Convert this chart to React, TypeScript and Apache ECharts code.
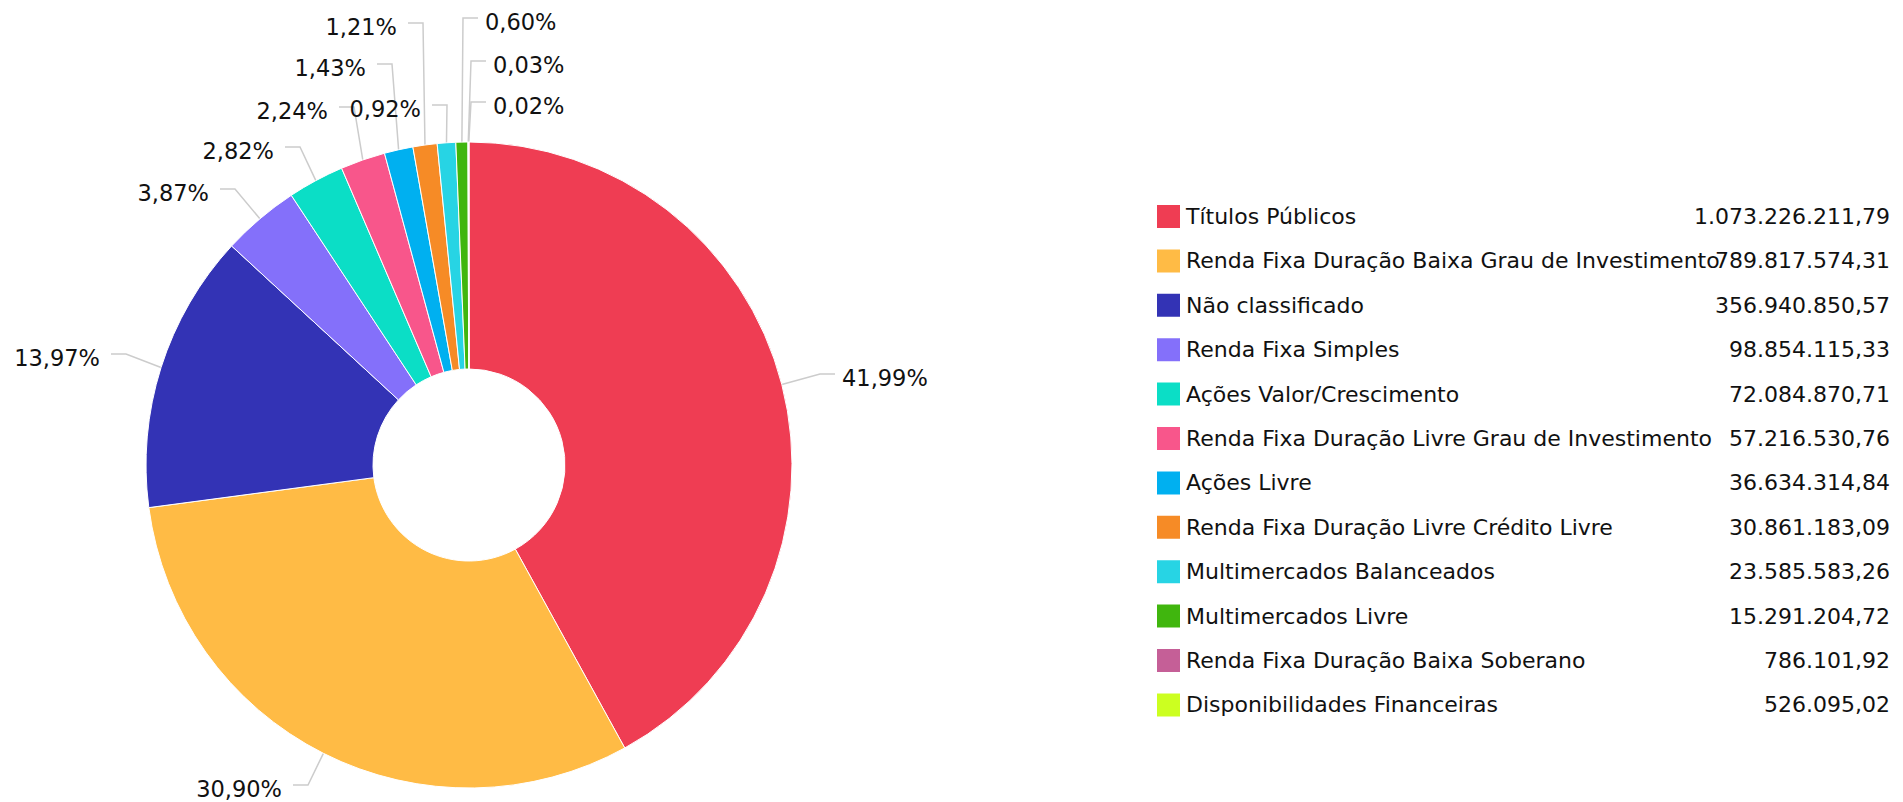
import React, { useEffect, useRef } from "react";
import * as echarts from "echarts";

const categories: string[] = [
  "Títulos Públicos",
  "Renda Fixa Duração Baixa Grau de Investimento",
  "Não classificado",
  "Renda Fixa Simples",
  "Ações Valor/Crescimento",
  "Renda Fixa Duração Livre Grau de Investimento",
  "Ações Livre",
  "Renda Fixa Duração Livre Crédito Livre",
  "Multimercados Balanceados",
  "Multimercados Livre",
  "Renda Fixa Duração Baixa Soberano",
  "Disponibilidades Financeiras",
];

const values: number[] = [
  1073226211.79, 789817574.31, 356940850.57, 98854115.33, 72084870.71,
  57216530.76, 36634314.84, 30861183.09, 23585583.26, 15291204.72,
  786101.92, 526095.02,
];

const colors: string[] = [
  "#ef3d53", "#ffbb45", "#3333b5", "#8470fa", "#0bdec6", "#f8568b",
  "#00b0f0", "#f68b26", "#27d4e4", "#40b60e", "#c55f97", "#ccff20",
];

// Label placement (layout config): side, connector bend x, connector row y
const LABEL_LAYOUT: { side: "left" | "right"; bendX: number; lineY: number }[] = [
  { side: "right", bendX: 820, lineY: 374 },
  { side: "left", bendX: 308, lineY: 785 },
  { side: "left", bendX: 126, lineY: 354 },
  { side: "left", bendX: 235, lineY: 189 },
  { side: "left", bendX: 300, lineY: 147 },
  { side: "left", bendX: 354, lineY: 107 },
  { side: "left", bendX: 392, lineY: 64 },
  { side: "left", bendX: 423, lineY: 23 },
  { side: "left", bendX: 447, lineY: 105 },
  { side: "right", bendX: 463, lineY: 18 },
  { side: "right", bendX: 471, lineY: 61 },
  { side: "right", bendX: 471, lineY: 102 },
];

const FONT = "'DejaVu Sans', Verdana, sans-serif";

function fmtBR(v: number): string {
  const [i, d] = v.toFixed(2).split(".");
  return i.replace(/\B(?=(\d{3})+(?!\d))/g, ".") + "," + d;
}

export default function App() {
  const ref = useRef<HTMLDivElement>(null);

  useEffect(() => {
    if (!ref.current) return;
    const chart = echarts.init(ref.current, undefined, { renderer: "svg" });
    const data = categories.map((name, i) => ({
      name,
      value: values[i],
      itemStyle: { color: colors[i] },
    }));

    chart.setOption({
      animation: false,
      backgroundColor: "#ffffff",
      legend: {
        orient: "vertical",
        left: 1155,
        top: 203,
        padding: 0,
        itemWidth: 25,
        itemHeight: 25,
        itemGap: 17.4,
        itemTextGap: 9,
        icon: "rect",
        selectedMode: false,
        data: categories,
        formatter: (name: string) => {
          const i = categories.indexOf(name);
          return `{n|${name}}{v|${fmtBR(values[i])}}`;
        },
        textStyle: {
          fontFamily: FONT,
          fontSize: 22,
          lineHeight: 24,
          color: "#111",
          rich: {
            n: { width: 484, fontFamily: FONT, fontSize: 22, color: "#111", lineHeight: 24 },
            v: { width: 220, align: "right", fontFamily: FONT, fontSize: 22, color: "#111", lineHeight: 24 },
          },
        },
      },
      series: [
        {
          type: "pie",
          center: [469, 465],
          radius: [96, 323],
          startAngle: 90,
          clockwise: true,
          avoidLabelOverlap: false,
          emphasis: { disabled: true },
          itemStyle: { borderColor: "#ffffff", borderWidth: 1 },
          label: {
            show: true,
            position: "outside",
            fontFamily: FONT,
            fontSize: 22.5,
            color: "#111",
            formatter: (p: any) => p.percent.toFixed(2).replace(".", ",") + "%",
          },
          labelLine: {
            show: true,
            length: 20,
            length2: 15,
            lineStyle: { color: "#cccccc", width: 1.5 },
          },
          labelLayout: (params: any) => {
            const cfg = LABEL_LAYOUT[params.dataIndex];
            if (!cfg) return {};
            const anchor = params.labelLinePoints ? params.labelLinePoints[0] : [cfg.bendX, cfg.lineY];
            const dir = cfg.side === "left" ? -1 : 1;
            const endX = cfg.bendX + dir * 15;
            const textX = cfg.side === "left" ? endX - 11 : endX + 7;
            return {
              x: textX,
              y: cfg.lineY + 4,
              align: cfg.side === "left" ? "right" : "left",
              verticalAlign: "middle",
              labelLinePoints: [
                [anchor[0], anchor[1]],
                [cfg.bendX, cfg.lineY],
                [endX, cfg.lineY],
              ],
            };
          },
          data,
        },
      ],
    });

    return () => chart.dispose();
  }, []);

  return (
    <div
      ref={ref}
      style={{ position: "fixed", left: 0, top: 0, width: 1903, height: 802, background: "#fff" }}
    />
  );
}
